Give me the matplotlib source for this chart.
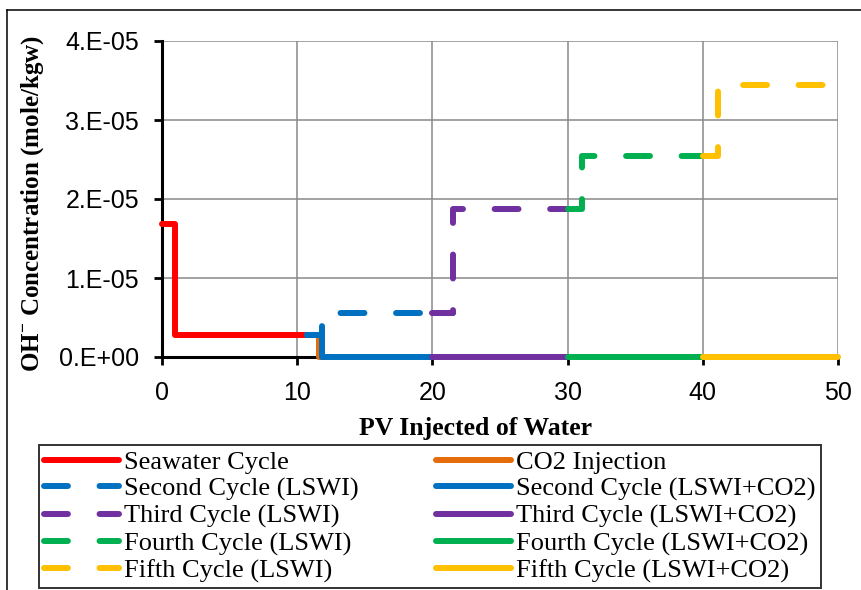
import matplotlib
matplotlib.use("Agg")
import matplotlib.pyplot as plt
from matplotlib.lines import Line2D

plt.rcParams.update({
    "font.family": "Liberation Sans",
    "mathtext.fontset": "custom",
    "mathtext.rm": "Liberation Serif:bold",
    "mathtext.bf": "Liberation Serif:bold",
})

# ── data (PV injected vs OH- concentration, mole/kgw) ──
seawater_x = [0, 0.96, 0.96, 10.7]
seawater_y = [1.68e-5, 1.68e-5, 0.28e-5, 0.28e-5]

co2_x = [10.7, 11.6, 11.6, 11.8]
co2_y = [0.28e-5, 0.28e-5, 0.0, 0.0]

lswi2_x = [10.7, 11.8, 11.8, 21.5]
lswi2_y = [0.28e-5, 0.28e-5, 0.56e-5, 0.56e-5]
lswi2co2_x = [10.7, 11.8, 11.8, 20]
lswi2co2_y = [0.28e-5, 0.28e-5, 0.0, 0.0]

lswi3_x = [20, 21.5, 21.5, 30]
lswi3_y = [0.56e-5, 0.56e-5, 1.87e-5, 1.87e-5]
lswi3co2_x = [20, 30]
lswi3co2_y = [0.0, 0.0]

lswi4_x = [30, 31.1, 31.1, 40]
lswi4_y = [1.87e-5, 1.87e-5, 2.55e-5, 2.55e-5]
lswi4co2_x = [30, 40]
lswi4co2_y = [0.0, 0.0]

lswi5_x = [40, 41.1, 41.1, 50]
lswi5_y = [2.55e-5, 2.55e-5, 3.44e-5, 3.44e-5]
lswi5co2_x = [40, 50]
lswi5co2_y = [0.0, 0.0]

xticks = [0, 10, 20, 30, 40, 50]
yticks = [0, 1e-5, 2e-5, 3e-5, 4e-5]
ytick_labels = ["0.E+00", "1.E-05", "2.E-05", "3.E-05", "4.E-05"]

RED, ORANGE, BLUE = "#FF0000", "#E46C0A", "#0070C0"
PURPLE, GREEN, YELLOW = "#7030A0", "#00B050", "#FFC000"

LW = 4.3
DASH = (4.0, 5.3)

fig = plt.figure(figsize=(8.62, 5.90), dpi=100)
ax = fig.add_axes([162 / 862, 1 - 357 / 590, 676 / 862, 316 / 590])

def solid(x, y, c, label):
    return ax.plot(x, y, color=c, lw=LW, solid_capstyle="round",
                   solid_joinstyle="round", clip_on=False, label=label,
                   zorder=3)[0]

def dashed(x, y, c, label):
    return ax.plot(x, y, color=c, lw=LW, dashes=DASH, dash_capstyle="round",
                   dash_joinstyle="round", clip_on=False, label=label,
                   zorder=3)[0]

h_sea = solid(seawater_x, seawater_y, RED, "Seawater Cycle")
h_co2 = solid(co2_x, co2_y, ORANGE, "CO2 Injection")
h_2c = solid(lswi2co2_x, lswi2co2_y, BLUE, "Second Cycle (LSWI+CO2)")
h_2l = dashed(lswi2_x, lswi2_y, BLUE, "Second Cycle (LSWI)")
h_3c = solid(lswi3co2_x, lswi3co2_y, PURPLE, "Third Cycle (LSWI+CO2)")
h_3l = dashed(lswi3_x, lswi3_y, PURPLE, "Third Cycle (LSWI)")
h_4c = solid(lswi4co2_x, lswi4co2_y, GREEN, "Fourth Cycle (LSWI+CO2)")
h_4l = dashed(lswi4_x, lswi4_y, GREEN, "Fourth Cycle (LSWI)")
h_5c = solid(lswi5co2_x, lswi5co2_y, YELLOW, "Fifth Cycle (LSWI+CO2)")
h_5l = dashed(lswi5_x, lswi5_y, YELLOW, "Fifth Cycle (LSWI)")

ax.set_xlim(0, 50)
ax.set_ylim(0, 4e-5)
ax.set_xticks(xticks)
ax.set_yticks(yticks)
ax.set_yticklabels(ytick_labels)
ax.tick_params(axis="both", direction="out", length=5.5, width=2.0,
               labelsize=18, color="black")
ax.tick_params(axis="y", pad=11)
ax.tick_params(axis="x", pad=12)

ax.grid(True, color="#898989", lw=1.1)
ax.set_axisbelow(True)
for s in ("top", "right"):
    ax.spines[s].set_visible(False)
for s in ("left", "bottom"):
    ax.spines[s].set_linewidth(2.2)
    ax.spines[s].set_color("black")
    ax.spines[s].set_zorder(2.5)

ax.set_xlabel("PV Injected of Water", family="Liberation Serif",
              fontweight="bold", fontsize=18.5)
ax.xaxis.set_label_coords((476 - 162) / 676, -0.19)
ax.set_ylabel(r"OH$^{\mathbf{-}}$ Concentration (mole/kgw)",
              family="Liberation Serif", fontweight="bold", fontsize=18)
ax.yaxis.set_label_coords((33 - 162) / 676, (357 - 204) / 316)
ax.yaxis.label.set_va("center")

handles = [h_sea, h_2l, h_3l, h_4l, h_5l, h_co2, h_2c, h_3c, h_4c, h_5c]
leg = fig.legend(handles, [h.get_label() for h in handles], ncol=2,
                 loc="upper left", mode="expand",
                 bbox_to_anchor=(39 / 862, 1 - 445 / 590, 782 / 862, 0.0),
                 bbox_transform=fig.transFigure,
                 prop={"family": "Liberation Serif", "size": 19},
                 frameon=True, fancybox=False, edgecolor="black",
                 borderpad=0.2, labelspacing=0.13, handlelength=2.83,
                 handletextpad=0.2, columnspacing=1.0, borderaxespad=0)
leg.get_frame().set_linewidth(1.4)

# outer figure border (top and left edges visible in the reference)
fig.add_artist(Line2D([7 / 862, 1.0], [1 - 10 / 590, 1 - 10 / 590],
                      transform=fig.transFigure, color="black", lw=1.1))
fig.add_artist(Line2D([7 / 862, 7 / 862], [0.0, 1 - 10 / 590],
                      transform=fig.transFigure, color="black", lw=1.1))

fig.savefig("out.png", dpi=100)
